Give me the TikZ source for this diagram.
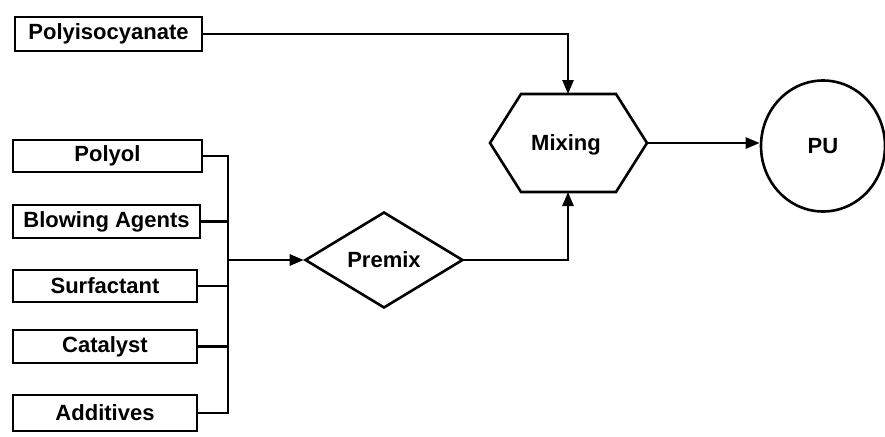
\documentclass[tikz,border=0pt]{standalone}
\usepackage{fontspec}
\setmainfont{Liberation Sans}
\usetikzlibrary{arrows.meta,shapes.geometric}
\begin{document}
\begin{tikzpicture}[x=1pt,y=-1pt,
  every node/.style={font=\bfseries\fontsize{22}{25}\selectfont},
  inbox/.style={draw, rectangle, line width=2.6pt, inner sep=0pt},
  link/.style={line width=2.6pt, line cap=rect},
  feed/.style={link, -{Triangle[length=14pt,width=11pt]}}]
\useasboundingbox (0,0) rectangle (885,436);

% raw material boxes
\node[inbox, minimum width=187, minimum height=34] (poly) at (108.5,34) {Polyisocyanate};
\node[inbox, minimum width=189, minimum height=32] (polyol) at (107.5,156) {Polyol};
\node[inbox, minimum width=187, minimum height=33] (blow) at (106.5,221.5) {Blowing Agents};
\node[inbox, minimum width=184, minimum height=32] (surf) at (105,286) {Surfactant};
\node[inbox, minimum width=184, minimum height=33] (cat) at (105,346.5) {Catalyst};
\node[inbox, minimum width=184, minimum height=36] (add) at (105,413) {Additives};

% premix diamond
\node[draw, diamond, line width=2.6pt, inner sep=0pt,
      minimum width=158, minimum height=96] (premix) at (384,260) {Premix};

% mixing hexagon
\coordinate (mixL)  at (490,143);
\coordinate (mixTL) at (521,94);
\coordinate (mixTR) at (616,94);
\coordinate (mixR)  at (647,143);
\coordinate (mixBR) at (616,192);
\coordinate (mixBL) at (521,192);
\coordinate (mixT)  at (568,94);
\coordinate (mixB)  at (568,192);
\draw[line width=2.6pt, line join=miter]
  (mixL) -- (mixTL) -- (mixTR) -- (mixR) -- (mixBR) -- (mixBL) -- cycle;
\node (mix) at (566,145) {Mixing};

% product
\node[draw, ellipse, line width=2.6pt, inner sep=0pt,
      minimum width=124, minimum height=131] (pu) at (823,146) {PU};

% collecting bus for the polyol side
\coordinate (bus) at (228,260);
\foreach \b in {polyol,blow,surf,cat,add}
  \draw[link] (\b.east) -- (\b.east -| bus);
\draw[link] (polyol.east -| bus) -- (add.east -| bus);
\draw[feed] (bus) -- (premix.west);

% flows into and out of mixing
\draw[feed] (poly.east) -| (mixT);
\draw[feed] (premix.east) -| (mixB);
\draw[feed] (mixR) -- (mixR -| pu.west);
\end{tikzpicture}
\end{document}
